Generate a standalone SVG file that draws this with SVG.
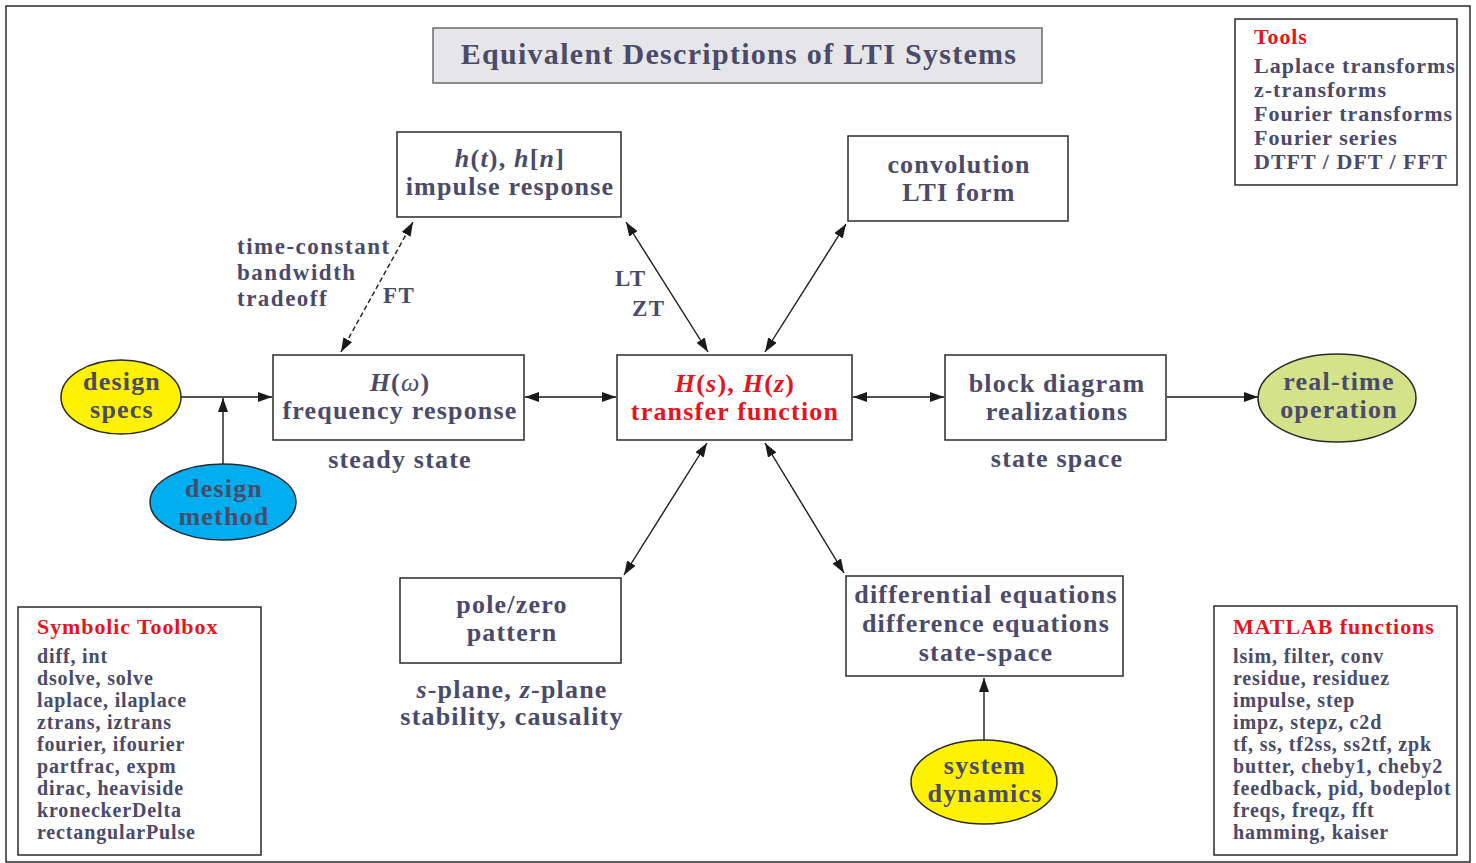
<svg xmlns="http://www.w3.org/2000/svg" width="1476" height="863" viewBox="0 0 1476 863">
  <style>
    text { font-family: "Liberation Serif", "Times New Roman", serif; font-weight: bold; fill: #4a4a6a; }
    .box { fill: #ffffff; stroke: #2a2a2a; stroke-width: 1.5; }
    .c { text-anchor: middle; font-size: 26px; letter-spacing: 1.2px; }
    .red { fill: #e8141c; }
    .head { font-size: 22px; letter-spacing: 0.9px; }
    .list { font-size: 20px; letter-spacing: 0.85px; }
    .tools { font-size: 22px; letter-spacing: 1px; }
    .note { font-size: 23px; letter-spacing: 1.5px; }
    .link { stroke: #1a1a1a; stroke-width: 1.4; fill: none; }
    .dash { stroke-dasharray: 5 3; }
    .i { font-style: italic; }
  </style>
  <defs>
    <marker id="ah" viewBox="0 0 14 10" refX="14" refY="5" markerWidth="14" markerHeight="10" markerUnits="userSpaceOnUse" orient="auto-start-reverse">
      <path d="M0,0 L14,5 L0,10 z" fill="#1a1a1a"/>
    </marker>
  </defs>

  <!-- outer frame -->
  <rect x="6" y="6" width="1464" height="856" fill="#ffffff" stroke="#2a2a2a" stroke-width="1.5"/>

  <!-- title -->
  <g id="title">
    <rect x="433" y="28" width="609" height="55" fill="#e6e6e8" stroke="#6a6a6a" stroke-width="1.5"/>
    <text x="739" y="64" text-anchor="middle" font-size="30" letter-spacing="1.3">Equivalent Descriptions of LTI Systems</text>
  </g>

  <!-- connectors -->
  <g id="connectors">
    <line class="link dash" x1="341" y1="352" x2="413" y2="222" marker-start="url(#ah)" marker-end="url(#ah)"/>
    <line class="link" x1="626" y1="222" x2="708" y2="352" marker-start="url(#ah)" marker-end="url(#ah)"/>
    <line class="link" x1="846" y1="224" x2="765" y2="352" marker-start="url(#ah)" marker-end="url(#ah)"/>
    <line class="link" x1="181" y1="397" x2="272" y2="397" marker-end="url(#ah)"/>
    <line class="link" x1="223" y1="464" x2="223" y2="398" marker-end="url(#ah)"/>
    <line class="link" x1="525" y1="397" x2="616" y2="397" marker-start="url(#ah)" marker-end="url(#ah)"/>
    <line class="link" x1="853" y1="397" x2="944" y2="397" marker-start="url(#ah)" marker-end="url(#ah)"/>
    <line class="link" x1="1167" y1="397" x2="1258" y2="397" marker-end="url(#ah)"/>
    <line class="link" x1="707" y1="443" x2="624" y2="575" marker-start="url(#ah)" marker-end="url(#ah)"/>
    <line class="link" x1="765" y1="443" x2="844" y2="573" marker-start="url(#ah)" marker-end="url(#ah)"/>
    <line class="link" x1="984" y1="740" x2="984" y2="678" marker-end="url(#ah)"/>
    <text x="237" y="254" class="note">time-constant</text>
    <text x="237" y="280" class="note">bandwidth</text>
    <text x="237" y="306" class="note">tradeoff</text>
    <text x="383" y="303" class="note" font-size="25">FT</text>
    <text x="615" y="286" class="note" font-size="25">LT</text>
    <text x="632" y="316" class="note" font-size="25">ZT</text>
  </g>

  <!-- tools legend -->
  <g id="tools">
    <rect x="1235" y="19" width="222" height="166" class="box"/>
    <text x="1254" y="44" class="head red">Tools</text>
    <text x="1254" y="73" class="tools">Laplace transforms</text>
    <text x="1254" y="97" class="tools">z-transforms</text>
    <text x="1254" y="121" class="tools">Fourier transforms</text>
    <text x="1254" y="145" class="tools">Fourier series</text>
    <text x="1254" y="169" class="tools">DTFT / DFT / FFT</text>
  </g>

  <g id="impulse">
    <rect x="397" y="132" width="224" height="85" class="box"/>
    <text x="510" y="167" class="c"><tspan class="i">h</tspan>(<tspan class="i">t</tspan>), <tspan class="i">h</tspan>[<tspan class="i">n</tspan>]</text>
    <text x="510" y="195" class="c">impulse response</text>
  </g>

  <g id="convolution">
    <rect x="848" y="136" width="220" height="85" class="box"/>
    <text x="959" y="173" class="c">convolution</text>
    <text x="959" y="201" class="c">LTI form</text>
  </g>

  <g id="frequency">
    <rect x="273" y="355" width="251" height="85" class="box"/>
    <text x="400" y="391" class="c"><tspan class="i">H</tspan>(<tspan class="i" font-weight="normal">ω</tspan>)</text>
    <text x="400" y="419" class="c">frequency response</text>
    <text x="400" y="468" class="c">steady state</text>
  </g>

  <g id="transfer">
    <rect x="617" y="355" width="235" height="85" class="box"/>
    <text x="735" y="392" class="c red"><tspan class="i">H</tspan>(<tspan class="i">s</tspan>), <tspan class="i">H</tspan>(<tspan class="i">z</tspan>)</text>
    <text x="735" y="420" class="c red">transfer function</text>
  </g>

  <g id="block">
    <rect x="945" y="355" width="221" height="85" class="box"/>
    <text x="1057" y="392" class="c">block diagram</text>
    <text x="1057" y="420" class="c">realizations</text>
    <text x="1057" y="467" class="c">state space</text>
  </g>

  <g id="realtime">
    <ellipse cx="1337" cy="398" rx="79" ry="44" fill="#d4e28a" stroke="#2a2a2a" stroke-width="1.5"/>
    <text x="1339" y="390" class="c">real-time</text>
    <text x="1339" y="418" class="c">operation</text>
  </g>

  <g id="specs">
    <ellipse cx="121" cy="397" rx="60" ry="37" fill="#fff200" stroke="#2a2a2a" stroke-width="1.5"/>
    <text x="122" y="390" class="c">design</text>
    <text x="122" y="418" class="c">specs</text>
  </g>

  <g id="method">
    <ellipse cx="223" cy="502" rx="73" ry="38" fill="#00aeef" stroke="#2a2a2a" stroke-width="1.5"/>
    <text x="224" y="497" class="c">design</text>
    <text x="224" y="525" class="c">method</text>
  </g>

  <g id="polezero">
    <rect x="400" y="578" width="221" height="85" class="box"/>
    <text x="512" y="613" class="c">pole/zero</text>
    <text x="512" y="641" class="c">pattern</text>
    <text x="512" y="698" class="c"><tspan class="i">s</tspan>-plane, <tspan class="i">z</tspan>-plane</text>
    <text x="512" y="725" class="c">stability, causality</text>
  </g>

  <g id="equations">
    <rect x="846" y="576" width="277" height="100" class="box"/>
    <text x="986" y="603" class="c">differential equations</text>
    <text x="986" y="632" class="c">difference equations</text>
    <text x="986" y="661" class="c">state-space</text>
  </g>

  <g id="dynamics">
    <ellipse cx="984" cy="782" rx="73" ry="42" fill="#fff200" stroke="#2a2a2a" stroke-width="1.5"/>
    <text x="985" y="774" class="c">system</text>
    <text x="985" y="802" class="c">dynamics</text>
  </g>

  <g id="symbolic">
    <rect x="18" y="607" width="243" height="248" class="box"/>
    <text x="37" y="634" class="head red">Symbolic Toolbox</text>
    <text x="37" y="663" class="list">diff, int</text>
    <text x="37" y="685" class="list">dsolve, solve</text>
    <text x="37" y="707" class="list">laplace, ilaplace</text>
    <text x="37" y="729" class="list">ztrans, iztrans</text>
    <text x="37" y="751" class="list">fourier, ifourier</text>
    <text x="37" y="773" class="list">partfrac, expm</text>
    <text x="37" y="795" class="list">dirac, heaviside</text>
    <text x="37" y="817" class="list">kroneckerDelta</text>
    <text x="37" y="839" class="list">rectangularPulse</text>
  </g>

  <g id="matlab">
    <rect x="1214" y="606" width="243" height="249" class="box"/>
    <text x="1233" y="634" class="head red">MATLAB functions</text>
    <text x="1233" y="663" class="list">lsim, filter, conv</text>
    <text x="1233" y="685" class="list">residue, residuez</text>
    <text x="1233" y="707" class="list">impulse, step</text>
    <text x="1233" y="729" class="list">impz, stepz, c2d</text>
    <text x="1233" y="751" class="list">tf, ss, tf2ss, ss2tf, zpk</text>
    <text x="1233" y="773" class="list">butter, cheby1, cheby2</text>
    <text x="1233" y="795" class="list">feedback, pid, bodeplot</text>
    <text x="1233" y="817" class="list">freqs, freqz, fft</text>
    <text x="1233" y="839" class="list">hamming, kaiser</text>
  </g>
</svg>
